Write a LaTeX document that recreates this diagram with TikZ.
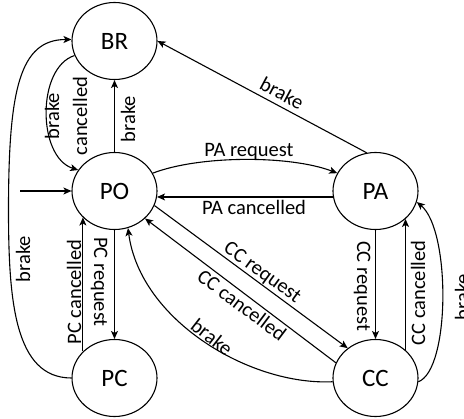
\documentclass[tikz,border=0pt]{standalone}
\usepackage{fontspec}
\setmainfont{Carlito}
\usetikzlibrary{arrows.meta,shapes.geometric}
\begin{document}
\begin{tikzpicture}[x=1pt,y=-1pt,
  state/.style={ellipse,draw,line width=1.1pt,minimum width=85pt,minimum height=77pt,inner sep=0pt,font=\fontsize{25}{30}\selectfont},
  arr/.style={line width=1.1pt,-{Stealth[length=8pt,width=7pt,inset=2pt]}},
  lbl/.style={font=\fontsize{20.5}{28}\selectfont,inner sep=0pt,align=center}]
\useasboundingbox (0,0) rectangle (464,419);
\node[state] (BR) at (114.5,41) {BR};
\node[state] (PO) at (114.5,191) {PO};
\node[state] (PC) at (114.5,378) {PC};
\node[state] (PA) at (375.5,191) {PA};
\node[state] (CC) at (375.5,378) {CC};
\coordinate (init) at (20,191);
\coordinate (w1) at (8.5,210);

% initial
\draw[arr] (init) -- (PO.west);
% PO -> BR
\draw[arr] (PO.north) -- (BR.south);
\node[lbl,rotate=90] (lb1) at (128,119) {brake};
% BR -> PO
\draw[arr] (BR.200) .. controls +(-38,12) and +(-41,-13) .. (PO.150);
\node[lbl,rotate=90] (lb2) at (66,116) {brake\\cancelled};
% PC -> BR
\draw[arr] (PC.180) .. controls +(-57,0) and +(0,90) .. (w1) .. controls +(0,-120) and +(-52,0) .. (BR.178);
\node[lbl,rotate=90] (lb3) at (23,259) {brake};
% PA -> BR
\draw[arr] (PA.103) -- (BR.east);
\node[lbl,rotate=-28] (lb4) at (282,93) {brake};
% PO -> PA
\draw[arr] (PO.25) .. controls +(47,-18) and +(-47,-18) .. (PA.155);
\node[lbl] (lb5) at (249,152) {PA request};
% PA -> PO
\draw[arr] (PA.188) -- (PO.-8);
\node[lbl] (lb6) at (254,207) {PA cancelled};
% PO -> CC
\draw[arr] (PO.-20) -- (CC.133);
\node[lbl,rotate=-36] (lb7) at (262,273) {CC request};
% CC -> PO
\draw[arr] (CC.159) -- (PO.-42);
\node[lbl,rotate=-37] (lb8) at (242,305) {CC cancelled};
% CC -> PO brake
\draw[arr] (CC.185) .. controls +(-83,4) and +(12,92) .. (PO.-70);
\node[lbl,rotate=-38] (lb9) at (212,337) {brake};
% PA -> CC
\draw[arr] (PA.south) -- (CC.north);
\node[lbl,rotate=-90] (lb10) at (362,286) {CC request};
% CC -> PA
\draw[arr] (CC.43) -- (PA.-43);
\node[lbl,rotate=90] (lb11) at (418,293) {CC cancelled};
% CC -> PA brake
\draw[arr] (CC.-5) .. controls +(32,-12) and +(34,28) .. (PA.-15);
\node[lbl,rotate=90] (lb12) at (462,297) {brake};
% PO -> PC
\draw[arr] (PO.south) -- (PC.north);
\node[lbl,rotate=-90] (lb13) at (99,282) {PC request};
% PC -> PO
\draw[arr] (PC.140) -- (PO.220);
\node[lbl,rotate=90] (lb14) at (74,292) {PC cancelled};
\end{tikzpicture}
\end{document}
